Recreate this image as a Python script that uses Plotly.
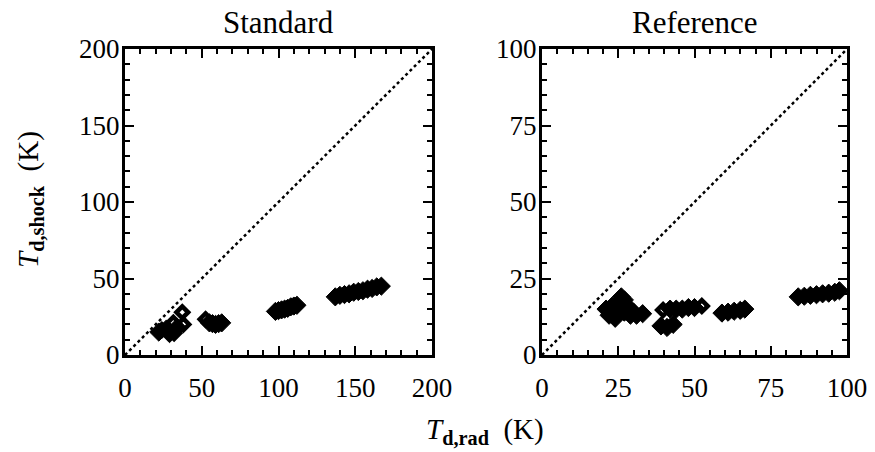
import plotly.graph_objects as go

# ---- data: Standard panel ----
std_open_x = [24, 31.5, 38, 32, 37.3, 52.5]
std_open_y = [16.3, 21, 20, 14.2, 27.9, 23.3]
std_fill_x = [22, 27, 29, 34, 55, 57, 59, 61, 63,
              98, 100, 102, 104, 106, 108, 110, 112,
              137, 140, 143, 146, 149, 152, 155, 158, 161, 164, 167]
std_fill_y = [15, 17, 14, 18, 21, 20.5, 20, 20.5, 21,
              28.5, 29, 29.5, 30, 30.5, 31.5, 32, 32.5,
              38, 39, 39.5, 40, 41, 41.5, 42, 43, 43.5, 44.5, 45]

# ---- data: Reference panel ----
ref_open_x = [39.7, 52.4]
ref_open_y = [14.7, 16]
ref_fill_x = [21, 22, 23, 24, 25, 26, 27, 27, 28, 29, 30, 31, 33, 25,
              39, 41, 43,
              42, 44, 46, 48, 50,
              59, 61, 63, 65, 66.5,
              84, 86, 88, 90, 92, 94, 96, 97.5]
ref_fill_y = [15, 13, 16, 12, 17, 19, 18, 14, 16, 13, 14, 13, 13.5, 14,
              9.5, 9, 10,
              15, 15, 15, 15.5, 15.5,
              13.7, 14, 14.3, 14.6, 15,
              19, 19.2, 19.5, 19.7, 20, 20.2, 20.5, 21]

std_ticks = [0, 50, 100, 150, 200]
ref_ticks = [0, 25, 50, 75, 100]
diag_std = [0, 200]
diag_ref = [0, 100]

FONT = "Liberation Serif"

fig = go.Figure()

def add_panel(ox, oy, fx, fy, diag, xa, ya):
    fig.add_trace(go.Scatter(x=diag, y=diag, mode="lines", xaxis=xa, yaxis=ya,
                             line=dict(color="black", width=2.5, dash="dot"),
                             showlegend=False, hoverinfo="skip"))
    fig.add_trace(go.Scatter(x=fx, y=fy, mode="markers", xaxis=xa, yaxis=ya,
                             marker=dict(symbol="diamond", size=14, color="black",
                                         line=dict(color="black", width=1)),
                             showlegend=False))
    fig.add_trace(go.Scatter(x=ox, y=oy, mode="markers", xaxis=xa, yaxis=ya,
                             marker=dict(symbol="diamond-open", size=9, color="black",
                                         line=dict(color="black", width=4.5)),
                             showlegend=False))

add_panel(std_open_x, std_open_y, std_fill_x, std_fill_y, diag_std, "x", "y")
add_panel(ref_open_x, ref_open_y, ref_fill_x, ref_fill_y, diag_ref, "x2", "y2")

# page body has an 8px margin: figure origin sits at screen (8, 8)
OFF = 8
W, H = 875 - OFF, 452 - OFF
def px(v): return (v - OFF) / W
def py(v): return (H - (v - OFF)) / H

axis_common = dict(showline=True, linewidth=3, linecolor="black", mirror="allticks",
                   ticks="inside", ticklen=9, tickwidth=2, tickcolor="black",
                   showgrid=False, zeroline=False, automargin=False,
                   tickfont=dict(family=FONT, size=27, color="black"))

minor_std = dict(dtick=10, ticks="inside", ticklen=5, tickwidth=2, tickcolor="black")
minor_ref = dict(dtick=5, ticks="inside", ticklen=5, tickwidth=2, tickcolor="black")

def ann(text, x, y, size, angle=0):
    return dict(text=text, x=px(x), y=py(y), xref="paper", yref="paper",
                xanchor="center", yanchor="middle", showarrow=False, textangle=angle,
                font=dict(family=FONT, size=size, color="black"))

fig.update_layout(
    width=W, height=H,
    margin=dict(l=0, r=0, t=0, b=0),
    paper_bgcolor="white", plot_bgcolor="white",
    xaxis=dict(domain=[px(125), px(432)], range=[0, 200], tickvals=std_ticks,
               minor=minor_std, anchor="y", ticklabelstandoff=7, **axis_common),
    yaxis=dict(domain=[py(355), py(49)], range=[0, 200], tickvals=std_ticks,
               minor=minor_std, anchor="x", ticklabelstandoff=-3, **axis_common),
    xaxis2=dict(domain=[px(542), px(847)], range=[0, 100], tickvals=ref_ticks,
                minor=minor_ref, anchor="y2", ticklabelstandoff=7, **axis_common),
    yaxis2=dict(domain=[py(355), py(49)], range=[0, 100], tickvals=ref_ticks,
                minor=minor_ref, anchor="x2", ticklabelstandoff=-3, **axis_common),
    annotations=[
        ann("Standard", 278.5, 23, 31),
        ann("Reference", 694.5, 23, 31),
        ann("<i>T</i><sub><b>d,rad</b></sub>  (K)", 485, 431, 29),
        ann("<i>T</i><sub><b>d,shock</b></sub>  (K)", 30, 200, 29, -90),
    ],
)

fig.write_html("out.html")
